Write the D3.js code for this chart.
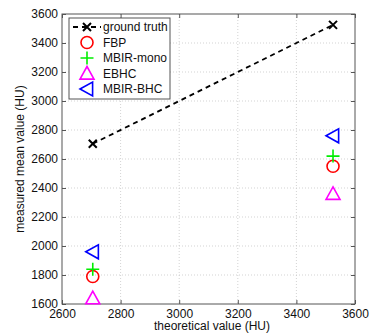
<!DOCTYPE html>
<html>
<head>
<meta charset="utf-8">
<script src="https://cdn.jsdelivr.net/npm/d3@7"></script>
<style>
  body { margin: 0; background: #fff; }
  svg { font-family: "Liberation Sans", Arial, sans-serif; }
</style>
</head>
<body>
<svg id="chart" width="372" height="335"></svg>
<script>
// data
var theoretical = [2705, 3525];
var groundTruth = [2705, 3525];
var fbp = [1790, 2550];
var mbirMono = [1840, 2620];
var ebhc = [1640, 2360];
var mbirBhc = [1960, 2760];
var xTicks = [2600, 2800, 3000, 3200, 3400, 3600];
var yTicks = [1600, 1800, 2000, 2200, 2400, 2600, 2800, 3000, 3200, 3400, 3600];
var seriesNames = ["ground truth", "FBP", "MBIR-mono", "EBHC", "MBIR-BHC"];

var svg = d3.select('#chart');
// "top" is taken by window.top, so plot edges get their own names
var plotL = 62, plotR = 355, plotT = 14, plotB = 304;
var fontSize = 12;

var x = d3.scaleLinear().domain([2600, 3600]).range([plotL, plotR]);
var y = d3.scaleLinear().domain([1600, 3600]).range([plotB, plotT]);

/*сетка*/
var grid = svg.append('g').attr('class', 'grid')
  .attr('stroke', '#c8c8c8').attr('stroke-width', 0.8)
  .attr('stroke-dasharray', '1,2');
grid.selectAll('line.gx').data(xTicks.slice(1, -1)).enter().append('line')
  .attr('x1', d => x(d)).attr('x2', d => x(d))
  .attr('y1', plotT).attr('y2', plotB);
grid.selectAll('line.gy').data(yTicks.slice(1, -1)).enter().append('line')
  .attr('y1', d => y(d)).attr('y2', d => y(d))
  .attr('x1', plotL).attr('x2', plotR);

/*оси*/
var axisColor = '#555';
function styleAxis(g) {
  g.select('.domain').remove();
  g.selectAll('.tick line').attr('stroke', axisColor);
  g.selectAll('.tick text').attr('fill', '#111').attr('font-size', fontSize)
    .attr('font-family', '"Liberation Sans", Arial, sans-serif');
}
svg.append('g').attr('transform', 'translate(0,' + plotB + ')')
  .call(d3.axisBottom(x).tickValues(xTicks).tickSize(-4).tickPadding(5).tickFormat(d3.format('d')))
  .call(styleAxis);
svg.append('g').attr('transform', 'translate(0,' + plotT + ')')
  .call(d3.axisTop(x).tickValues(xTicks).tickSize(-4).tickFormat(''))
  .call(styleAxis);
svg.append('g').attr('transform', 'translate(' + plotL + ',0)')
  .call(d3.axisLeft(y).tickValues(yTicks).tickSize(-4).tickPadding(4).tickFormat(d3.format('d')))
  .call(styleAxis);
svg.append('g').attr('transform', 'translate(' + plotR + ',0)')
  .call(d3.axisRight(y).tickValues(yTicks).tickSize(-4).tickFormat(''))
  .call(styleAxis);
svg.append('rect').attr('x', plotL).attr('y', plotT)
  .attr('width', plotR - plotL).attr('height', plotB - plotT)
  .attr('fill', 'none').attr('stroke', axisColor).attr('stroke-width', 1);

/*подписи осей*/
svg.append('text').text('theoretical value (HU)')
  .attr('x', 212).attr('y', 330)
  .attr('text-anchor', 'middle').attr('font-size', fontSize).attr('fill', '#111');
svg.append('text').text('measured mean value (HU)')
  .attr('transform', 'translate(24,' + (plotT + plotB) / 2 + ') rotate(-90)')
  .attr('text-anchor', 'middle').attr('font-size', fontSize).attr('fill', '#111');

/*маркеры*/
function drawMarker(g, type, cx, cy) {
  if (type == 'x') {
    var s = 4;
    g.append('path').attr('d', 'M' + (cx - s) + ',' + (cy - s) + 'L' + (cx + s) + ',' + (cy + s) +
      'M' + (cx - s) + ',' + (cy + s) + 'L' + (cx + s) + ',' + (cy - s))
      .attr('stroke', '#000').attr('stroke-width', 2).attr('fill', 'none');
  } else if (type == 'o') {
    g.append('circle').attr('cx', cx).attr('cy', cy).attr('r', 6)
      .attr('stroke', '#ff0000').attr('stroke-width', 1.6).attr('fill', 'none');
  } else if (type == '+') {
    var p = 6.5;
    g.append('path').attr('d', 'M' + (cx - p) + ',' + cy + 'L' + (cx + p) + ',' + cy +
      'M' + cx + ',' + (cy - p) + 'L' + cx + ',' + (cy + p))
      .attr('stroke', '#00ee00').attr('stroke-width', 1.6).attr('fill', 'none');
  } else if (type == '^') {
    var t = 7;
    g.append('path').attr('d', 'M' + cx + ',' + (cy - t) + 'L' + (cx + t) + ',' + (cy + t * 0.8) +
      'L' + (cx - t) + ',' + (cy + t * 0.8) + 'Z')
      .attr('stroke', '#ff00ff').attr('stroke-width', 1.6).attr('fill', 'none');
  } else if (type == '<') {
    var u = 7;
    g.append('path').attr('d', 'M' + (cx - u) + ',' + cy + 'L' + (cx + u * 0.8) + ',' + (cy - u) +
      'L' + (cx + u * 0.8) + ',' + (cy + u) + 'Z')
      .attr('stroke', '#0000ff').attr('stroke-width', 1.6).attr('fill', 'none');
  }
}

var series = [
  { name: seriesNames[1], vals: fbp, type: 'o' },
  { name: seriesNames[2], vals: mbirMono, type: '+' },
  { name: seriesNames[3], vals: ebhc, type: '^' },
  { name: seriesNames[4], vals: mbirBhc, type: '<' }
];

var line = d3.line().x((d, i) => x(theoretical[i])).y(d => y(d));
svg.append('path').datum(groundTruth).attr('d', line)
  .attr('stroke', '#000').attr('stroke-width', 1.8)
  .attr('stroke-dasharray', '5,4').attr('fill', 'none');

var marks = svg.append('g').attr('class', 'marks');
groundTruth.forEach((v, i) => drawMarker(marks, 'x', x(theoretical[i]), y(v)));
series.forEach(s => {
  s.vals.forEach((v, i) => drawMarker(marks, s.type, x(theoretical[i]), y(v)));
});

/*легенда*/
var lg = svg.append('g').attr('class', 'legend');
lg.append('rect').attr('x', 69).attr('y', 18).attr('width', 101).attr('height', 81)
  .attr('fill', '#fff').attr('stroke', '#555').attr('stroke-width', 1);
var rowY = [27, 42.5, 58, 73.5, 89];
var mx = 87;
lg.append('line').attr('x1', 73).attr('x2', 101).attr('y1', rowY[0]).attr('y2', rowY[0])
  .attr('stroke', '#000').attr('stroke-width', 1.8).attr('stroke-dasharray', '5,4');
drawMarker(lg, 'x', mx, rowY[0]);
series.forEach((s, i) => drawMarker(lg, s.type, mx, rowY[i + 1]));
lg.selectAll('text').data(seriesNames).enter().append('text')
  .text(d => d)
  .attr('x', 103).attr('y', (d, i) => rowY[i] + 4)
  .attr('font-size', fontSize).attr('fill', '#111');
</script>
</body>
</html>
